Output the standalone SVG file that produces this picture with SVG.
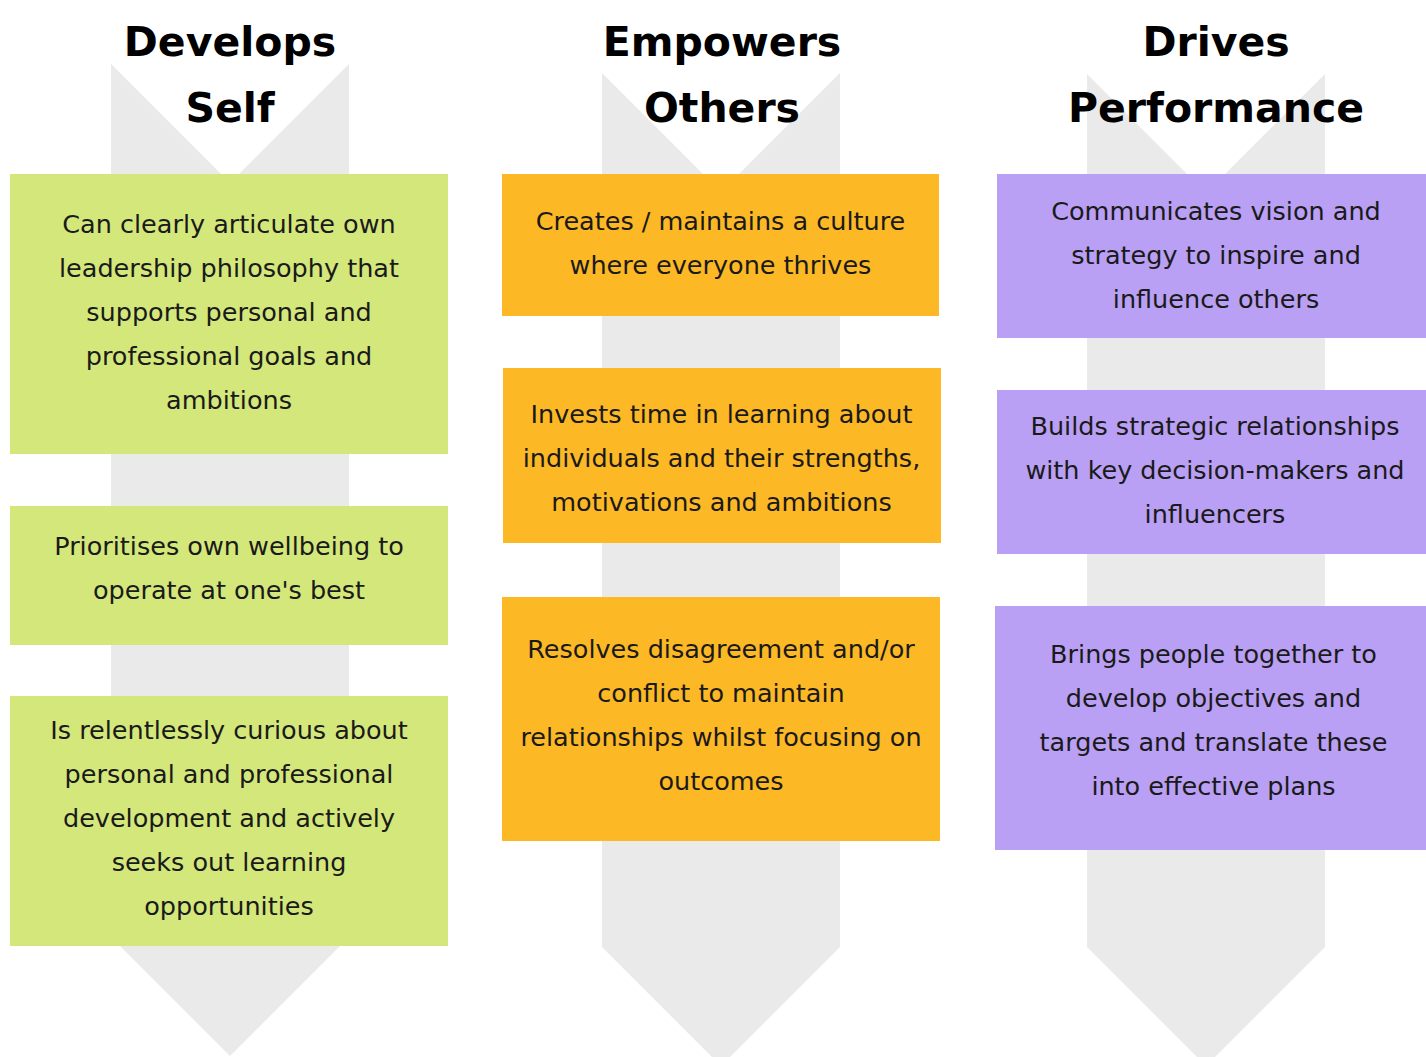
<svg xmlns="http://www.w3.org/2000/svg" width="1426" height="1057" viewBox="0 0 1426 1057">
<style>
.bg{fill:#EAEAEA}
.title{font-family:"DejaVu Sans",sans-serif;font-weight:bold;font-size:41px;fill:#000;text-anchor:middle}
.t{font-family:"DejaVu Sans",sans-serif;font-size:25.5px;fill:#1a1a1a;text-anchor:middle}
.g{fill:#D4E77A}
.o{fill:#FDB825}
.p{fill:#B9A0F4}
</style>
<rect width="1426" height="1057" fill="#fff"/>
<g id="chevrons">
<polygon id="chevron-1" class="bg" points="111,64 230,183 349,64 349,937 230,1056 111,937"/>
<polygon id="chevron-2" class="bg" points="602,73 721,192 840,73 840,947 721,1066 602,947"/>
<polygon id="chevron-3" class="bg" points="1087,74 1206,193 1325,74 1325,947 1206,1066 1087,947"/>
</g>
<g id="titles">
<text class="title" x="230" y="56">Develops</text>
<text class="title" x="230" y="122">Self</text>
<text class="title" x="722" y="56">Empowers</text>
<text class="title" x="722" y="122">Others</text>
<text class="title" x="1216" y="56">Drives</text>
<text class="title" x="1216" y="122">Performance</text>
</g>
<g id="connectors"></g>
<g id="node-self-1">
<rect class="g" x="10" y="174" width="438" height="280"/>
<text class="t" x="229" y="233">Can clearly articulate own</text>
<text class="t" x="229" y="277">leadership philosophy that</text>
<text class="t" x="229" y="321">supports personal and</text>
<text class="t" x="229" y="365">professional goals and</text>
<text class="t" x="229" y="409">ambitions</text>
</g>
<g id="node-self-2">
<rect class="g" x="10" y="506" width="438" height="139"/>
<text class="t" x="229" y="555">Prioritises own wellbeing to</text>
<text class="t" x="229" y="599">operate at one's best</text>
</g>
<g id="node-self-3">
<rect class="g" x="10" y="696" width="438" height="250"/>
<text class="t" x="229" y="739">Is relentlessly curious about</text>
<text class="t" x="229" y="783">personal and professional</text>
<text class="t" x="229" y="827">development and actively</text>
<text class="t" x="229" y="871">seeks out learning</text>
<text class="t" x="229" y="915">opportunities</text>
</g>
<g id="node-others-1">
<rect class="o" x="502" y="174" width="437" height="142"/>
<text class="t" x="720.5" y="230">Creates / maintains a culture</text>
<text class="t" x="720.5" y="274">where everyone thrives</text>
</g>
<g id="node-others-2">
<rect class="o" x="503" y="368" width="438" height="175"/>
<text class="t" x="721.5" y="423">Invests time in learning about</text>
<text class="t" x="721.5" y="467">individuals and their strengths,</text>
<text class="t" x="721.5" y="511">motivations and ambitions</text>
</g>
<g id="node-others-3">
<rect class="o" x="502" y="597" width="438" height="244"/>
<text class="t" x="721" y="658">Resolves disagreement and/or</text>
<text class="t" x="721" y="702">conflict to maintain</text>
<text class="t" x="721" y="746">relationships whilst focusing on</text>
<text class="t" x="721" y="790">outcomes</text>
</g>
<g id="node-perf-1">
<rect class="p" x="997" y="174" width="437" height="164"/>
<text class="t" x="1216" y="220">Communicates vision and</text>
<text class="t" x="1216" y="264">strategy to inspire and</text>
<text class="t" x="1216" y="308">influence others</text>
</g>
<g id="node-perf-2">
<rect class="p" x="997" y="390" width="437" height="164"/>
<text class="t" x="1215" y="435">Builds strategic relationships</text>
<text class="t" x="1215" y="479">with key decision-makers and</text>
<text class="t" x="1215" y="523">influencers</text>
</g>
<g id="node-perf-3">
<rect class="p" x="995" y="606" width="437" height="244"/>
<text class="t" x="1213.5" y="663">Brings people together to</text>
<text class="t" x="1213.5" y="707">develop objectives and</text>
<text class="t" x="1213.5" y="751">targets and translate these</text>
<text class="t" x="1213.5" y="795">into effective plans</text>
</g>
</svg>
